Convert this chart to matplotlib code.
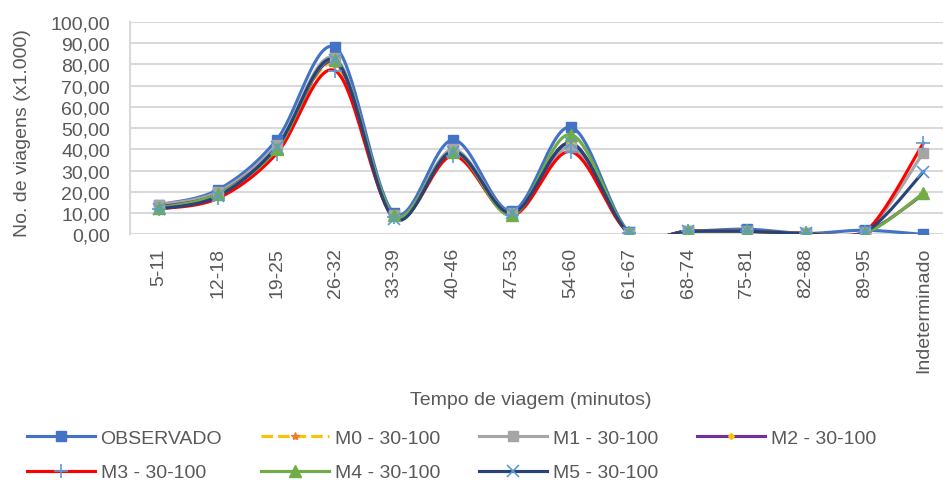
import numpy as np
import matplotlib.pyplot as plt

plt.rcParams['font.family'] = ['Liberation Sans', 'DejaVu Sans']

categorias = ["5-11", "12-18", "19-25", "26-32", "33-39", "40-46", "47-53",
              "54-60", "61-67", "68-74", "75-81", "82-88", "89-95", "Indeterminado"]

observado = [14.0, 21.0, 44.5, 88.0, 10.0, 44.5, 11.0, 50.5, 1.0, 1.5, 2.5, 0.5, 2.0, 0.0]
m0 = [13.0, 19.0, 40.0, 80.0, 8.0, 38.0, 9.0, 42.0, 0.5, 1.5, 1.5, 0.5, 1.0, 19.0]
m1 = [14.0, 20.0, 42.0, 83.0, 9.0, 40.0, 10.0, 41.0, 0.5, 1.5, 1.5, 0.5, 1.0, 38.5]
m2 = [13.0, 19.0, 40.5, 81.0, 8.5, 39.0, 9.5, 43.0, 0.5, 1.5, 1.5, 0.5, 1.0, 19.0]
m3 = [12.0, 17.0, 38.0, 77.0, 8.0, 37.0, 9.0, 39.0, 0.5, 1.5, 1.5, 0.5, 1.0, 43.0]
m4 = [12.5, 19.0, 40.0, 82.0, 9.0, 39.0, 9.0, 47.0, 0.5, 1.5, 1.5, 0.5, 0.5, 19.5]
m5 = [12.0, 18.0, 41.0, 82.0, 7.5, 39.0, 10.0, 43.0, 0.5, 1.5, 1.5, 0.5, 1.0, 29.5]

series = [
    ("OBSERVADO", observado, dict(color="#4472C4", marker="s", mfc="#4472C4", mec="#4472C4", ms=7)),
    ("M0 - 30-100", m0, dict(color="#FFC000", ls="--", marker="*", mfc="#ED7D31", mec="#ED7D31", ms=6)),
    ("M1 - 30-100", m1, dict(color="#A5A5A5", marker="s", mfc="#A5A5A5", mec="#A5A5A5", ms=7)),
    ("M2 - 30-100", m2, dict(color="#7030A0", marker="D", mfc="#FFC000", mec="#FFC000", ms=3)),
    ("M3 - 30-100", m3, dict(color="#FF0000", marker="+", mfc="#5B9BD5", mec="#5B9BD5", ms=10, mew=1.2)),
    ("M4 - 30-100", m4, dict(color="#70AD47", marker="^", mfc="#70AD47", mec="#70AD47", ms=8)),
    ("M5 - 30-100", m5, dict(color="#264478", marker="x", mfc="#5B9BD5", mec="#5B9BD5", ms=9, mew=1.2)),
]


def suavizar(x, y, n=40):
    # curva suavizada tipo Excel (Bezier / Catmull-Rom)
    x = np.asarray(x, float)
    y = np.asarray(y, float)
    p = np.column_stack([x, y])
    pts = []
    for i in range(len(p) - 1):
        p0 = p[i - 1] if i > 0 else p[i]
        p1, p2 = p[i], p[i + 1]
        p3 = p[i + 2] if i + 2 < len(p) else p[i + 1]
        c1 = p1 + (p2 - p0) / 6
        c2 = p2 - (p3 - p1) / 6
        t = np.linspace(0, 1, n)[:, None]
        seg = ((1 - t) ** 3) * p1 + 3 * ((1 - t) ** 2) * t * c1 + 3 * (1 - t) * t ** 2 * c2 + t ** 3 * p2
        pts.append(seg)
    pts = np.vstack(pts)
    return pts[:, 0], pts[:, 1]


fig = plt.figure(figsize=(9.43, 4.81), dpi=100)
ax = fig.add_axes([0.1374, 0.5104, 0.873, 0.4418])

x = np.arange(len(categorias))
handles = {}
for nome, vals, st in series:
    xs, ys = suavizar(x, vals)
    ax.plot(xs, ys, color=st["color"], ls=st.get("ls", "-"), lw=2.25, zorder=2)
    ax.plot(x, vals, ls="none", marker=st["marker"], mfc=st["mfc"], mec=st["mec"],
            ms=st["ms"], mew=st.get("mew", 1), zorder=3)
    # entrada de legenda
    h, = ax.plot([], [], color=st["color"], ls=st.get("ls", "-"), lw=2.25, marker=st["marker"],
                 mfc=st["mfc"], mec=st["mec"], ms=st["ms"], mew=st.get("mew", 1), label=nome)
    handles[nome] = h

ax.set_xlim(-0.5, len(categorias) - 0.5)
ax.set_ylim(0, 100)
ax.set_yticks(np.arange(0, 101, 10))
ax.set_yticklabels([f"{v:.2f}".replace(".", ",") for v in np.arange(0, 101, 10)])
ax.set_xticks(x)
ax.set_xticklabels(categorias, rotation=90)
ax.tick_params(axis="both", length=0, labelsize=14, colors="#595959")
ax.tick_params(axis="x", pad=9)
ax.tick_params(axis="y", pad=14)

ax.grid(axis="y", color="#D9D9D9", lw=1.5, zorder=0)
ax.set_axisbelow(True)
for s in ["top", "right", "bottom"]:
    ax.spines[s].set_visible(False)
ax.spines["left"].set_color("#D9D9D9")
ax.spines["left"].set_linewidth(1.5)

ax.set_ylabel("No. de viagens (x1.000)", fontsize=14, color="#595959")
ax.yaxis.set_label_coords(-0.12, 0.48)
ax.set_xlabel("Tempo de viagem (minutos)", fontsize=14, color="#595959")
ax.xaxis.set_label_coords(0.487, -0.736)

# ordem por colunas para que as linhas fiquem como no original
ordem = ["OBSERVADO", "M3 - 30-100", "M0 - 30-100", "M4 - 30-100",
         "M1 - 30-100", "M5 - 30-100", "M2 - 30-100"]
fig.legend(handles=[handles[n] for n in ordem], loc="upper left", bbox_to_anchor=(0.02, 0.121), ncol=4,
           frameon=False, fontsize=14, handlelength=3.5, handletextpad=0.3,
           columnspacing=2.0, labelspacing=0.85, labelcolor="#595959", borderaxespad=0)

fig.savefig("out.png", dpi=100)
